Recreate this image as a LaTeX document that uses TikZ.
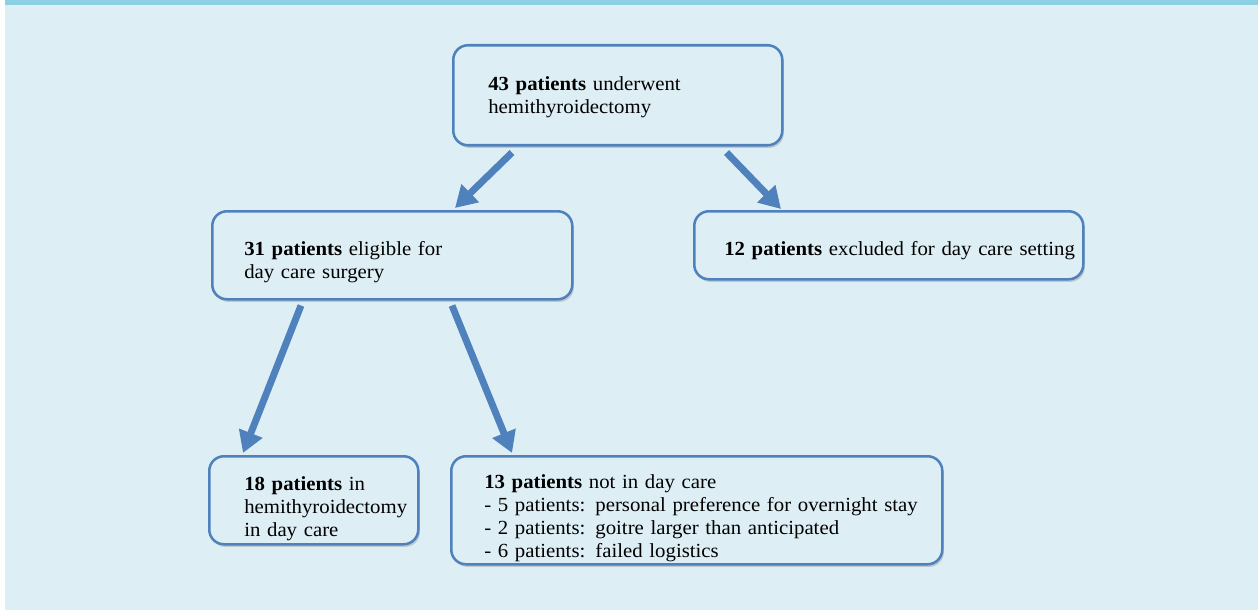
\documentclass[tikz,border=0pt]{standalone}
\usepackage{fontspec}
\setmainfont{Liberation Serif}[FakeStretch=1.04]
\usepackage{tikz}
\usetikzlibrary{arrows.meta, shadows}
\definecolor{flowBlue}{RGB}{79, 129, 189}
\definecolor{flowBack}{RGB}{222, 238, 245}
\definecolor{flowStripe}{RGB}{140, 209, 227}
\newdimen\pxu \pxu=0.75pt

\begin{document}
\begin{tikzpicture}[x=0.75pt, y=-0.75pt,
  box/.style={rectangle, rounded corners=11pt, draw=flowBlue, line width=1.9pt,
              fill=flowBack, align=left, anchor=north west,
              inner xsep=0pt, inner ysep=0pt,
              font=\fontsize{15pt}{17.2pt}\selectfont,
              drop shadow={shadow xshift=1.2pt, shadow yshift=-2pt,
                           fill=black!40, opacity=0.45}},
  pad/.style={execute at begin node={\leftskip=#1\pxu\relax}},
  lower/.style={execute at begin node={\vskip#1\pxu\relax}},
  arrow/.style={draw=flowBlue, line width=5.2pt,
                -{Triangle[length=16pt, width=18pt]}},
]
  \useasboundingbox (0,0) rectangle (1258,610);
  \fill[white] (0,0) rectangle (1258,610);
  \fill[flowBack] (5,5) rectangle (1258,610);
  \fill[flowStripe] (5,0) rectangle (1258,5);

  % boxes
  \node[box, lower=-5, pad=35, text width=329\pxu, minimum height=100\pxu] (total) at (452,44)
    {\textbf{43 patients} underwent\\hemithyroidectomy};
  \node[box, lower=5, pad=32, text width=360\pxu, minimum height=88\pxu] (eligible) at (211,210)
    {\textbf{31 patients} eligible for\\day care surgery};
  \node[box, lower=2, pad=30, text width=389\pxu, minimum height=68\pxu] (excluded) at (693,210)
    {\textbf{12 patients} excluded for day care setting};
  \node[box, lower=7, pad=35, text width=209\pxu, minimum height=88\pxu] (daycare) at (208,455)
    {\textbf{18 patients} in\\hemithyroidectomy\\in day care};
  \node[box, lower=7, pad=33, text width=491\pxu, minimum height=108\pxu] (notday) at (450,455)
    {\textbf{13 patients} not in day care\\
     - 5 patients: personal preference for overnight stay\\
     - 2 patients: goitre larger than anticipated\\
     - 6 patients: failed logistics};

  % arrows
  \draw[arrow] ([shift={(60,6)}]total.south west) -- ([shift={(244,-2)}]eligible.north west);
  \draw[arrow] ([shift={(-57,6)}]total.south east) -- ([shift={(88,-1)}]excluded.north west);
  \draw[arrow] ([shift={(90,5)}]eligible.south west) -- ([shift={(35,-2)}]daycare.north west);
  \draw[arrow] ([shift={(241,5)}]eligible.south west) -- ([shift={(62,-2)}]notday.north west);
\end{tikzpicture}
\end{document}
